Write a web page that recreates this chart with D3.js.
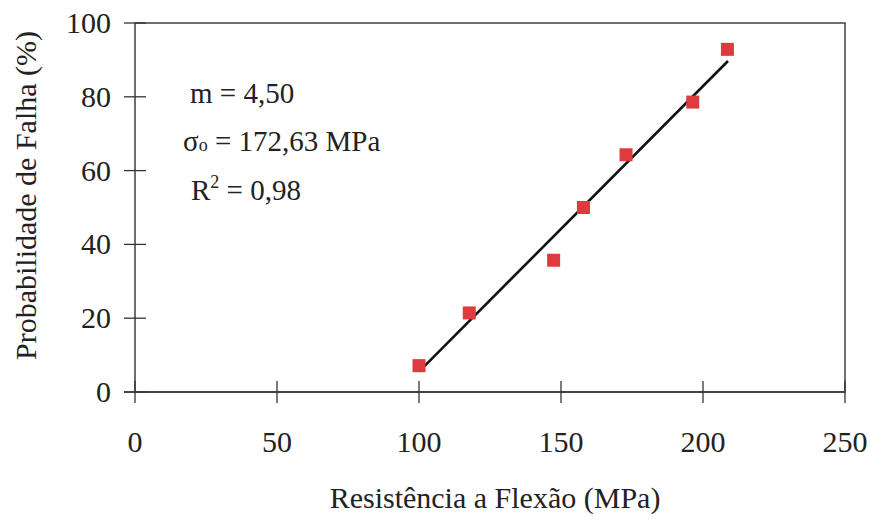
<!DOCTYPE html>
<html>
<head>
<meta charset="utf-8">
<script src="https://cdn.jsdelivr.net/npm/d3@7/dist/d3.min.js"></script>
<style>
  html, body { margin: 0; padding: 0; background: #fff; }
</style>
</head>
<body>
<svg id="chart" width="870" height="520"></svg>
<script>
// Flexural strength (MPa) and Weibull failure probability (%) of each specimen
const strength = [100.0, 117.7, 147.4, 157.9, 172.9, 196.4, 208.6];
const failProb = [7.14, 21.43, 35.71, 50.0, 64.29, 78.57, 92.86];

// Ends of the linear trend line
const trendX = [100.0, 208.8];
const trendY = [5.5, 89.7];

// Axis ticks
const xTicks = [0, 50, 100, 150, 200, 250];
const yTicks = [0, 20, 40, 60, 80, 100];

// Fit parameters shown on the plot
const fitLabels = ["m = 4,50", "= 172,63 MPa", "= 0,98"];

const serif = "'Liberation Serif', 'Times New Roman', 'DejaVu Serif', serif";

const svg = d3.select("#chart")
  .style("font-family", serif)
  .attr("font-family", serif);
const plotL = 135, plotR = 845, plotT = 23, plotB = 392;

const x = d3.scaleLinear().domain([0, 250]).range([plotL, plotR]);
const y = d3.scaleLinear().domain([0, 100]).range([plotB, plotT]);

const axisColor = "#333";
const textColor = "#222";
const fontSize = 30;

// Plot frame
svg.append("rect")
  .attr("x", plotL).attr("y", plotT)
  .attr("width", plotR - plotL).attr("height", plotB - plotT)
  .attr("fill", "none").attr("stroke", axisColor).attr("stroke-width", 1.4);

// X axis with ticks crossing the line
const gx = svg.append("g").attr("transform", `translate(0,${plotB})`);
gx.selectAll("line.tick").data(xTicks).join("line")
  .attr("class", "tick")
  .attr("x1", d => x(d)).attr("x2", d => x(d))
  .attr("y1", -11).attr("y2", 11)
  .attr("stroke", axisColor).attr("stroke-width", 1.3);
gx.append("line").attr("x1", plotL - 11).attr("x2", plotR)
  .attr("stroke", axisColor).attr("stroke-width", 1.4);
gx.selectAll("text").data(xTicks).join("text")
  .attr("x", d => x(d)).attr("y", 60)
  .attr("text-anchor", "middle")
  .attr("font-size", fontSize)
  .style("font-family", serif).attr("fill", textColor)
  .text(d => d);

// Y axis with ticks crossing the line
const gy = svg.append("g");
gy.selectAll("line.tick").data(yTicks).join("line")
  .attr("class", "tick")
  .attr("x1", plotL - 11).attr("x2", plotL + 11)
  .attr("y1", d => y(d)).attr("y2", d => y(d))
  .attr("stroke", axisColor).attr("stroke-width", 1.3);
gy.selectAll("text").data(yTicks).join("text")
  .attr("x", plotL - 24).attr("y", d => y(d) + 10)
  .attr("text-anchor", "end")
  .attr("font-size", fontSize)
  .style("font-family", serif).attr("fill", textColor)
  .text(d => d);

// Axis titles
svg.append("text")
  .attr("x", (plotL + plotR) / 2 + 5).attr("y", 508)
  .attr("text-anchor", "middle").attr("font-size", fontSize)
  .style("font-family", serif).attr("fill", textColor)
  .text("Resistência a Flexão (MPa)");
svg.append("text")
  .attr("transform", `translate(36,${(plotT + plotB) / 2 - 12}) rotate(-90)`)
  .attr("text-anchor", "middle").attr("font-size", fontSize)
  .style("font-family", serif).attr("fill", textColor)
  .text("Probabilidade de Falha (%)");

// Trend line
const pts = trendX.map((v, i) => [x(v), y(trendY[i])]);
svg.append("path")
  .attr("d", d3.line()(pts))
  .attr("fill", "none").attr("stroke", "#111").attr("stroke-width", 2.6);

// Data markers
const size = 13;
svg.selectAll("rect.pt").data(strength).join("rect")
  .attr("class", "pt")
  .attr("x", d => x(d) - size / 2)
  .attr("y", (d, i) => y(failProb[i]) - size / 2)
  .attr("width", size).attr("height", size)
  .attr("fill", "#df3a3e");

// Fit parameter annotations
const ann = svg.append("g").attr("font-size", 29)
  .style("font-family", serif).attr("fill", textColor);
ann.append("text").attr("x", 190).attr("y", 103).text(fitLabels[0]);
const s = ann.append("text").attr("x", 183).attr("y", 151);
s.append("tspan").text("σ");
s.append("tspan").attr("font-size", 18).text("o");
s.append("tspan").text(" " + fitLabels[1]);
const r = ann.append("text").attr("x", 191).attr("y", 200);
r.append("tspan").text("R");
r.append("tspan").attr("font-size", 18).attr("dy", -12).text("2");
r.append("tspan").attr("dy", 12).text(" " + fitLabels[2]);
</script>
</body>
</html>
